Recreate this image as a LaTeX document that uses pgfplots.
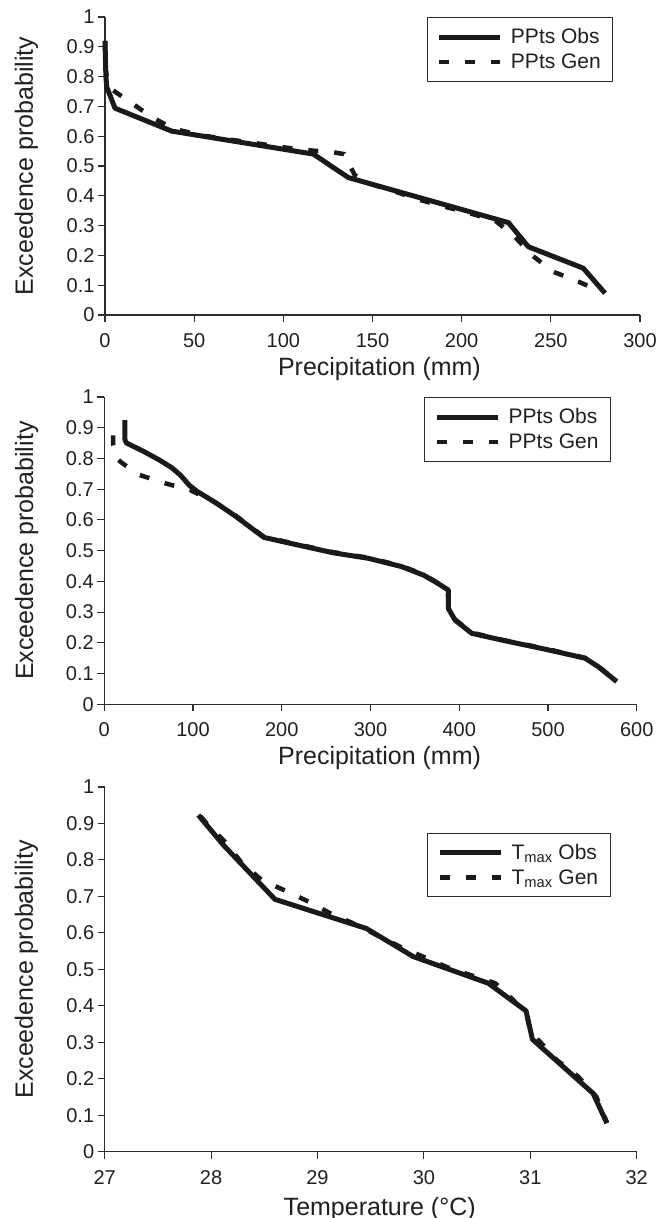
\documentclass[border=0pt]{standalone}
\usepackage{pgfplots}
\pgfplotsset{compat=1.18}
\usepackage{fontspec}
\setmainfont{Liberation Sans}
\definecolor{ln}{RGB}{26,26,26}
\definecolor{ax}{RGB}{45,45,45}
\definecolor{tc}{RGB}{35,31,32}
\pgfplotsset{
  myax/.style={
    scale only axis, clip=false,
    axis x line*=bottom, axis y line*=left,
    axis line style={line width=1.2pt, color=ax},
    tick align=outside, major tick length=7pt,
    every tick/.style={line width=1.1pt, color=ax},
    ymin=0, ymax=1, ytick={0,0.1,0.2,0.3,0.4,0.5,0.6,0.7,0.8,0.9,1},
    /pgf/number format/assume math mode=true,
    /pgf/number format/fixed,
    tick label style={font=\fontsize{20}{24}\selectfont, text=tc},
    xticklabel style={yshift=-8pt},
    label style={font=\fontsize{25}{30}\selectfont, text=tc},
    ylabel={Exceedence probability},
    legend cell align=left,
    legend style={at={(0.601,0.999)}, anchor=north west, draw=ax, line width=0.9pt,
      fill=white, inner xsep=10pt, inner ysep=9pt, row sep=4.5pt,
      font=\fontsize{21}{25}\selectfont, text=tc,
      /tikz/column 1/.style={column sep=6pt}},
    legend image code/.code={\draw[##1] (0pt,0pt) -- (61pt,0pt);},
  },
  obs/.style={ln, line width=5pt, line join=round},
  gen/.style={ln, line width=4.5pt, dash pattern=on 10pt off 16pt},
}
\begin{document}
\begin{tikzpicture}
\useasboundingbox (0pt,0pt) rectangle (670pt,1218pt);
% Panel 1
\begin{axis}[myax, at={(105pt,903pt)}, anchor=south west, width=535pt, height=298pt,
  xmin=0, xmax=300, xtick={0,50,100,150,200,250,300},
  xlabel={Precipitation (mm)},
  xlabel style={at={(axis description cs:0.513,-0.2047)}, anchor=base},
  ylabel style={at={(axis description cs:-0.147,0.5)}, anchor=center}]
\addplot[obs] coordinates {(0,0.92) (0.5,0.80) (1,0.765) (5.6,0.694) (37.4,0.617) (116.8,0.540) (136.5,0.461) (226.2,0.310) (237.4,0.229) (268.2,0.157) (280.4,0.073)};
\addlegendentry{PPts Obs}
\addplot[gen] coordinates {(0,0.92) (0,0.84) (1.5,0.78) (3,0.76) (14,0.715) (26,0.665) (38,0.626) (53,0.604) (68,0.59) (83,0.578) (97,0.565) (111.6,0.554) (128,0.546) (134,0.54) (140,0.47) (147.7,0.442) (162.6,0.414) (176.7,0.386) (190.7,0.363) (204.7,0.341) (218.7,0.317) (229,0.268) (239.3,0.201) (251.4,0.145) (265.4,0.112) (278.5,0.078)};
\addlegendentry{PPts Gen}
\end{axis}
% Panel 2
\begin{axis}[myax, at={(104.3pt,513.7pt)}, anchor=south west, width=532.4pt, height=307.3pt,
  xmin=0, xmax=600, xtick={0,100,200,300,400,500,600},
  xlabel={Precipitation (mm)},
  xlabel style={at={(axis description cs:0.517,-0.1975)}, anchor=base},
  ylabel style={at={(axis description cs:-0.146,0.5)}, anchor=center}]
\addplot[obs] coordinates {(23.3,0.925) (23.3,0.86) (25.2,0.85) (45,0.822) (62,0.795) (76,0.77) (86,0.745) (96,0.712) (105,0.692) (125,0.657) (148,0.612) (165,0.575) (180,0.543) (209.3,0.524) (258,0.493) (297.6,0.475) (335.2,0.448) (360,0.42) (372.7,0.399) (387.7,0.372) (387.7,0.312) (395.3,0.274) (414.1,0.231) (447.9,0.209) (500.5,0.177) (541.8,0.150) (556.8,0.122) (577.5,0.074)};
\addlegendentry{PPts Obs}
\addplot[gen] coordinates {(10,0.875) (10,0.845) (14,0.80) (20,0.785) (40,0.746) (70,0.718) (97,0.697) (125,0.657) (148,0.614) (165,0.577) (180,0.545) (209.3,0.526) (258,0.495) (297.6,0.477) (335.2,0.45) (360,0.422) (372.7,0.40) (387,0.375) (388,0.31) (395.3,0.276) (414.1,0.233) (447.9,0.21) (500.5,0.179) (541.8,0.151) (556.8,0.123) (577.5,0.075)};
\addlegendentry{PPts Gen}
\end{axis}
% Panel 3
\begin{axis}[myax, at={(104.7pt,66.3pt)}, anchor=south west, width=532pt, height=364.7pt,
  xmin=27, xmax=32, xtick={27,28,29,30,31,32},
  xlabel={Temperature (°C)},
  xlabel style={at={(axis description cs:0.517,-0.1736)}, anchor=base},
  ylabel style={at={(axis description cs:-0.147,0.5)}, anchor=center},
  legend style={at={(0.606,0.874)}}]
\addplot[obs] coordinates {(27.88,0.923) (28.115,0.841) (28.60,0.692) (29.46,0.612) (29.90,0.535) (30.605,0.462) (30.96,0.386) (31.02,0.308) (31.59,0.160) (31.72,0.078)};
\addlegendentry{T\textsubscript{max} Obs}
\addplot[gen] coordinates {(27.9,0.92) (27.97,0.896) (28.14,0.847) (28.29,0.791) (28.476,0.745) (28.695,0.716) (28.914,0.686) (29.117,0.654) (29.337,0.626) (29.556,0.594) (29.775,0.562) (29.99,0.535) (30.21,0.507) (30.43,0.485) (30.67,0.462) (30.84,0.416) (30.97,0.37) (31.0,0.33) (31.25,0.251) (31.45,0.206) (31.62,0.151) (31.72,0.08)};
\addlegendentry{T\textsubscript{max} Gen}
\end{axis}
\end{tikzpicture}
\end{document}
